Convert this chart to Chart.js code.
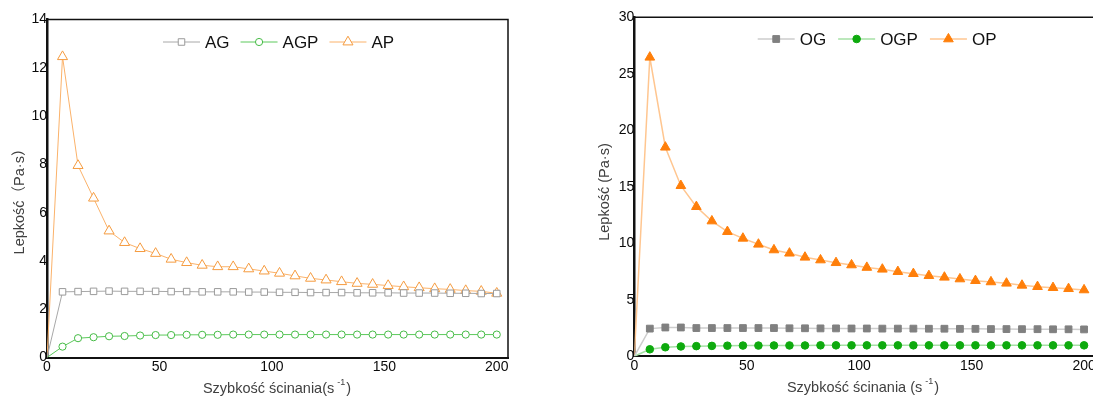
<!DOCTYPE html>
<html>
<head>
<meta charset="utf-8">
<script src="https://cdn.jsdelivr.net/npm/chart.js@4.4.1/dist/chart.umd.min.js"></script>
<style>
  html, body { margin: 0; padding: 0; background: #fff; width: 1093px; height: 398px; overflow: hidden; }
  .panel { position: absolute; top: 0; height: 398px; }
  #leftPanel { left: 0; width: 545px; }
  #rightPanel { left: 560px; width: 560px; }
</style>
</head>
<body>
<div class="panel" id="leftPanel"><canvas id="leftChart"></canvas></div>
<div class="panel" id="rightPanel"><canvas id="rightChart"></canvas></div>
<script>
// Shear rate (s^-1) at which viscosity was recorded
const shearRate = [0, 6.9, 13.8, 20.7, 27.6, 34.5, 41.4, 48.3, 55.2, 62.1, 69.0, 75.9, 82.8, 89.7, 96.6,
  103.4, 110.3, 117.2, 124.1, 131.0, 137.9, 144.8, 151.7, 158.6, 165.5, 172.4, 179.3, 186.2, 193.1, 200];

// Viscosity (Pa·s) – left panel
const viscAG  = [0, 2.72, 2.73, 2.74, 2.75, 2.74, 2.74, 2.74, 2.73, 2.73, 2.72, 2.72, 2.72, 2.71, 2.71,
  2.70, 2.70, 2.69, 2.69, 2.69, 2.68, 2.68, 2.68, 2.67, 2.67, 2.67, 2.66, 2.66, 2.65, 2.65];
const viscAGP = [0, 0.45, 0.80, 0.84, 0.88, 0.89, 0.91, 0.93, 0.93, 0.94, 0.94, 0.94, 0.95, 0.95, 0.95,
  0.95, 0.95, 0.95, 0.95, 0.95, 0.95, 0.95, 0.95, 0.95, 0.95, 0.95, 0.95, 0.95, 0.95, 0.95];
const viscAP  = [0, 12.46, 7.95, 6.60, 5.24, 4.76, 4.51, 4.31, 4.07, 3.93, 3.82, 3.76, 3.76, 3.67, 3.58,
  3.49, 3.38, 3.28, 3.21, 3.14, 3.07, 3.03, 2.98, 2.93, 2.89, 2.85, 2.82, 2.77, 2.74, 2.66];

// Viscosity (Pa·s) – right panel
const viscOG  = [0, 2.45, 2.55, 2.55, 2.50, 2.50, 2.50, 2.50, 2.50, 2.50, 2.48, 2.48, 2.47, 2.47, 2.46,
  2.46, 2.45, 2.45, 2.45, 2.44, 2.44, 2.43, 2.43, 2.41, 2.41, 2.40, 2.40, 2.39, 2.39, 2.38];
const viscOGP = [0, 0.62, 0.80, 0.87, 0.90, 0.92, 0.94, 0.95, 0.95, 0.96, 0.96, 0.96, 0.97, 0.97, 0.97,
  0.97, 0.97, 0.97, 0.97, 0.97, 0.97, 0.97, 0.97, 0.97, 0.97, 0.97, 0.97, 0.97, 0.97, 0.97];
const viscOP  = [0, 26.46, 18.50, 15.10, 13.24, 11.97, 11.03, 10.44, 9.91, 9.41, 9.12, 8.76, 8.52, 8.28, 8.08,
  7.86, 7.70, 7.49, 7.31, 7.13, 6.99, 6.84, 6.69, 6.58, 6.46, 6.28, 6.16, 6.07, 5.98, 5.87];

// Tick labels
const xTicks = [0, 50, 100, 150, 200];
const yTicksLeft = [0, 2, 4, 6, 8, 10, 12, 14];
const yTicksRight = [0, 5, 10, 15, 20, 25, 30];

const FONT = '"Liberation Sans", Arial, "Noto Sans CJK SC", sans-serif';

function points(values) {
  return values.map((v, i) => ({ x: shearRate[i], y: v }));
}

function series(label, values, style, lineColor, markColor, radius, filled, lineWidth) {
  return {
    label,
    data: points(values),
    borderColor: lineColor,
    borderWidth: lineWidth,
    pointStyle: style,
    pointRadius: values.map((v, i) => (i === 0 ? 0 : radius)),
    pointHoverRadius: radius,
    pointBorderColor: markColor,
    pointBackgroundColor: filled ? markColor : '#ffffff',
    pointBorderWidth: 1,
    tension: 0,
    fill: false
  };
}

// Draws the frame, legend (line + marker samples) and axis titles
const decorations = {
  id: 'decorations',
  afterDraw(chart, args, opts) {
    const ctx = chart.ctx;
    const a = chart.chartArea;
    ctx.save();

    // frame lines on top (and right)
    ctx.strokeStyle = '#111';
    ctx.lineWidth = 1.5;
    ctx.beginPath();
    ctx.moveTo(a.left, a.top);
    ctx.lineTo(a.right, a.top);
    if (opts.rightBorder) ctx.lineTo(a.right, a.bottom);
    ctx.stroke();

    // legend
    ctx.font = '17px ' + FONT;
    ctx.textBaseline = 'middle';
    ctx.textAlign = 'left';
    let x = opts.legendX;
    const y = opts.legendY;
    chart.data.datasets.forEach(ds => {
      const len = 37;
      ctx.strokeStyle = ds.borderColor;
      ctx.lineWidth = ds.borderWidth;
      ctx.beginPath();
      ctx.moveTo(x, y);
      ctx.lineTo(x + len, y);
      ctx.stroke();
      ctx.fillStyle = ds.pointBackgroundColor;
      ctx.strokeStyle = ds.pointBorderColor;
      ctx.lineWidth = ds.pointBorderWidth;
      Chart.helpers.drawPoint(ctx, { pointStyle: ds.pointStyle, radius: ds.pointHoverRadius, borderWidth: 1, rotation: 0 }, x + len / 2, y);
      ctx.fillStyle = '#111';
      ctx.fillText(ds.label, x + len + 5, y + 1);
      x += len + 5 + ctx.measureText(ds.label).width + opts.legendGap;
    });

    // y-axis title
    ctx.fillStyle = '#404040';
    ctx.font = '14.5px ' + FONT;
    ctx.save();
    ctx.translate(opts.yTitleX, opts.yTitleY);
    ctx.rotate(-Math.PI / 2);
    ctx.textAlign = 'center';
    ctx.fillText(opts.yTitle, 0, 0);
    ctx.restore();

    // x-axis title with superscript exponent
    const base = opts.xTitle;
    const sup = '-1';
    ctx.font = '14.5px ' + FONT;
    const wBase = ctx.measureText(base).width;
    const wClose = ctx.measureText(')').width;
    ctx.font = '9px ' + FONT;
    const wSup = ctx.measureText(sup).width + 4;
    const total = wBase + wSup + wClose;
    let tx = opts.xTitleX - total / 2;
    ctx.textAlign = 'left';
    ctx.font = '14.5px ' + FONT;
    ctx.fillText(base, tx, opts.xTitleY);
    tx += wBase;
    ctx.font = '9px ' + FONT;
    ctx.fillText(sup, tx + 3, opts.xTitleY - 6);
    tx += wSup;
    ctx.font = '14.5px ' + FONT;
    ctx.fillText(')', tx, opts.xTitleY);
    ctx.restore();
  }
};

function makeChart(canvasId, datasets, yMax, yTicks, layout, deco) {
  return new Chart(document.getElementById(canvasId), {
    type: 'line',
    data: { datasets },
    plugins: [decorations],
    options: {
      responsive: true,
      maintainAspectRatio: false,
      animation: false,
      events: [],
      layout: { padding: { top: layout.top, right: layout.right, bottom: 0, left: 0 } },
      plugins: {
        legend: { display: false },
        tooltip: { enabled: false },
        decorations: deco
      },
      scales: {
        x: {
          type: 'linear',
          min: 0,
          max: 205,
          afterBuildTicks: s => { s.ticks = xTicks.map(v => ({ value: v })); },
          afterFit: s => { s.height = layout.xAxisHeight; },
          grid: { display: false, drawTicks: false },
          border: { display: true, color: '#111', width: 2 },
          ticks: { color: '#0a0a0a', font: { family: FONT, size: 14 }, padding: 1, maxRotation: 0 }
        },
        y: {
          type: 'linear',
          min: 0,
          max: yMax,
          afterBuildTicks: s => { s.ticks = yTicks.map(v => ({ value: v })); },
          afterFit: s => { s.width = layout.yAxisWidth; },
          grid: { display: false, drawTicks: false },
          border: { display: true, color: '#111', width: 2.5 },
          ticks: { color: '#0a0a0a', font: { family: FONT, size: 14 }, padding: 0 }
        }
      }
    }
  });
}

makeChart('leftChart', [
  series('AG',  viscAG,  'rect',     '#a8a8a8', '#9a9a9a', 4.6, false, 1),
  series('AGP', viscAGP, 'circle',   '#5cc95c', '#45bb45', 3.6, false, 1),
  series('AP',  viscAP,  'triangle', '#fbb26a', '#f59b3f', 5.8, false, 1)
], 14, yTicksLeft,
  { top: 19.5, right: 37, xAxisHeight: 40.5, yAxisWidth: 47 },
  { rightBorder: true, legendX: 163, legendY: 42, legendGap: 11,
    yTitle: 'Lepkość（Pa·s）', yTitleX: 20, yTitleY: 198,
    xTitle: 'Szybkość ścinania(s', xTitleX: 277, xTitleY: 389 });

makeChart('rightChart', [
  series('OG',  viscOG,  'rect',     '#cdcdcd', '#808080', 4.8, true, 1.5),
  series('OGP', viscOGP, 'circle',   '#a6e0a6', '#0eaa0e', 3.8, true, 1.5),
  series('OP',  viscOP,  'triangle', '#ffc690', '#ff7f0a', 5.6, true, 1.5)
], 30, yTicksRight,
  { top: 17.3, right: 24.7, xAxisHeight: 41.7, yAxisWidth: 74.3 },
  { rightBorder: true, legendX: 197.7, legendY: 39, legendGap: 12,
    yTitle: 'Lepkość (Pa·s)', yTitleX: 45, yTitleY: 192,
    xTitle: 'Szybkość ścinania (s', xTitleX: 303, xTitleY: 388 });
</script>
</body>
</html>
